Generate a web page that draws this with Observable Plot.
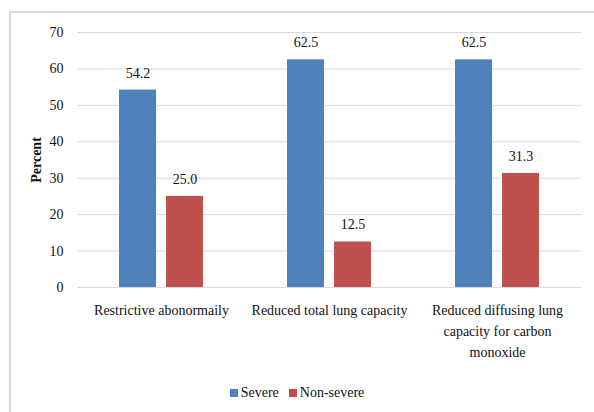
<!DOCTYPE html>
<html>
<head>
<meta charset="utf-8">
<script src="https://cdn.jsdelivr.net/npm/d3@7"></script>
<script src="https://cdn.jsdelivr.net/npm/@observablehq/plot@0.6"></script>
<style>
  body { margin: 0; background: #fff; }
  #wrap { position: relative; width: 594px; height: 412px; overflow: hidden; font-family: "Liberation Serif", "DejaVu Serif", serif; }
  #frame { position: absolute; left: 9px; top: 11px; width: 700px; height: 500px; border-left: 2px solid #d9d9d9; border-top: 2px solid #d9d9d9; }
  #chart { position: absolute; left: 0; top: 0; }
  #legend { position: absolute; left: 0; width: 594px; top: 385px; text-align: center; font-size: 14px; color: #111; }
  #legend span.item { display: inline-flex; align-items: center; margin: 0 5px; }
  #legend span.sw { display: inline-block; width: 8px; height: 8px; margin-right: 3px; }
  #chart svg, #chart svg text { font-family: "Liberation Serif", "DejaVu Serif", serif !important; }
</style>
</head>
<body>
<div id="wrap">
  <div id="frame"></div>
  <div id="chart"></div>
  <div id="legend"></div>
</div>
<script>
const categories = ["Restrictive abonormaily", "Reduced total lung capacity", "Reduced diffusing lung capacity for carbon monoxide"];
const categoryLabels = ["Restrictive abonormaily", "Reduced total lung capacity", "Reduced diffusing lung\ncapacity for carbon\nmonoxide"];
const series = ["Severe", "Non-severe"];
const severe = [54.2, 62.5, 62.5];
const nonSevere = [25.0, 12.5, 31.3];
const colors = ["#4F81BD", "#C0504D"];
const yTicks = [0, 10, 20, 30, 40, 50, 60, 70];

const data = [];
categories.forEach((c, i) => {
  data.push({cat: c, s: series[0], v: severe[i]});
  data.push({cat: c, s: series[1], v: nonSevere[i]});
});
const labelOf = Object.fromEntries(categories.map((c, i) => [c, categoryLabels[i]]));

const chart = Plot.plot({
  width: 594,
  height: 372,
  marginLeft: 76,
  marginRight: 12,
  marginTop: 32,
  marginBottom: 85,
  style: {fontSize: "14px", color: "#111", background: "transparent"},
  fx: {domain: categories, padding: 0},
  x: {domain: series, paddingInner: 0.21, paddingOuter: 0.86, axis: null},
  y: {domain: [0, 70]},
  color: {domain: series, range: colors},
  marks: [
    Plot.gridY(yTicks, {stroke: "#d9d9d9", strokeOpacity: 1, strokeWidth: 1}),
    Plot.axisY(yTicks, {tickSize: 0, tickPadding: 14, fontSize: 14, label: null}),
    Plot.axisY([], {label: "Percent", labelAnchor: "center", labelArrow: "none", labelOffset: 46, fontWeight: "bold", fontSize: 14}),
    Plot.axisFx({anchor: "bottom", tickSize: 0, tickPadding: 13, fontSize: 14, lineHeight: 1.5, label: null, tickFormat: d => labelOf[d]}),
    Plot.barY(data, {fx: "cat", x: "s", y: "v", fill: "s"}),
    Plot.text(data, {fx: "cat", x: "s", y: "v", text: d => d.v.toFixed(1), dy: -17, fontSize: 14, fill: "#111"})
  ]
});
document.getElementById("chart").appendChild(chart);

const legend = document.getElementById("legend");
series.forEach((s, i) => {
  const item = document.createElement("span");
  item.className = "item";
  const sw = document.createElement("span");
  sw.className = "sw";
  sw.style.background = colors[i];
  item.appendChild(sw);
  item.appendChild(document.createTextNode(s));
  legend.appendChild(item);
});
</script>
</body>
</html>
